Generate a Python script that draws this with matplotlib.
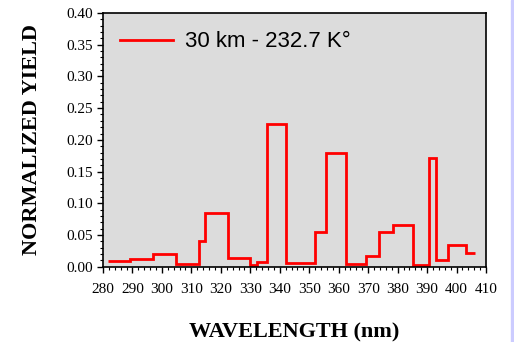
import numpy as np
import matplotlib
matplotlib.use('Agg')
import matplotlib.pyplot as plt
from matplotlib.patches import Rectangle
from matplotlib.ticker import MultipleLocator, FormatStrFormatter

# bin edges (nm) and normalized yield in each bin
edges = [281.7, 289.1, 297.0, 304.8, 312.7, 314.7, 322.3, 330.0, 332.3, 335.5,
         342.1, 352.1, 355.7, 362.6, 369.4, 373.6, 378.4, 385.3, 390.7, 393.0,
         397.2, 403.2, 406.4]
yield_30km = [0.009, 0.012, 0.020, 0.005, 0.040, 0.084, 0.014, 0.003, 0.008, 0.225,
              0.006, 0.055, 0.179, 0.005, 0.017, 0.054, 0.066, 0.003, 0.171, 0.011,
              0.034, 0.022]
series_label = '30 km - 232.7 K\u00b0'

fig = plt.figure(figsize=(5.14, 3.42), dpi=100)
ax = fig.add_axes([103/514, 1-266.7/342, (486-103)/514, (266.7-13)/342])
ax.set_facecolor('#DCDCDC')

ax.stairs(yield_30km, edges, baseline=None, color='#FF0000', lw=2.0,
          label=series_label)

ax.set_xlim(280, 410)
ax.set_ylim(0, 0.40)
ax.xaxis.set_major_locator(MultipleLocator(10))
ax.xaxis.set_minor_locator(MultipleLocator(2))
ax.yaxis.set_major_locator(MultipleLocator(0.05))
ax.yaxis.set_minor_locator(MultipleLocator(0.01))
ax.yaxis.set_major_formatter(FormatStrFormatter('%.2f'))

ax.tick_params(which='major', direction='out', length=4, width=1.0,
               labelsize=11, pad=3)
ax.tick_params(axis='x', which='major', pad=7.5)
ax.tick_params(which='minor', direction='out', length=2, width=0.8)
ax.tick_params(top=False, right=False)
for lab in ax.get_xticklabels() + ax.get_yticklabels():
    lab.set_family('Liberation Serif')
for sp in ax.spines.values():
    sp.set_linewidth(1.2)
    sp.set_color('black')

ax.set_xlabel('WAVELENGTH (nm)', family='Liberation Serif', fontweight='bold',
              fontsize=16, labelpad=19)
ax.set_ylabel('NORMALIZED YIELD', family='Liberation Serif', fontweight='bold',
              fontsize=16, labelpad=17.5)

leg = ax.legend(loc='upper left', bbox_to_anchor=(0.01, 0.98), frameon=False,
                prop={'family': 'Liberation Sans', 'size': 16},
                handlelength=2.4, handletextpad=0.5, borderaxespad=0.2)

# light strip at right edge of the page
fig.patches.append(Rectangle((510.5/514, 0), 3.5/514, 1, transform=fig.transFigure,
                             color='#CCCCFF', zorder=0))

plt.savefig('out.png', dpi=100)
